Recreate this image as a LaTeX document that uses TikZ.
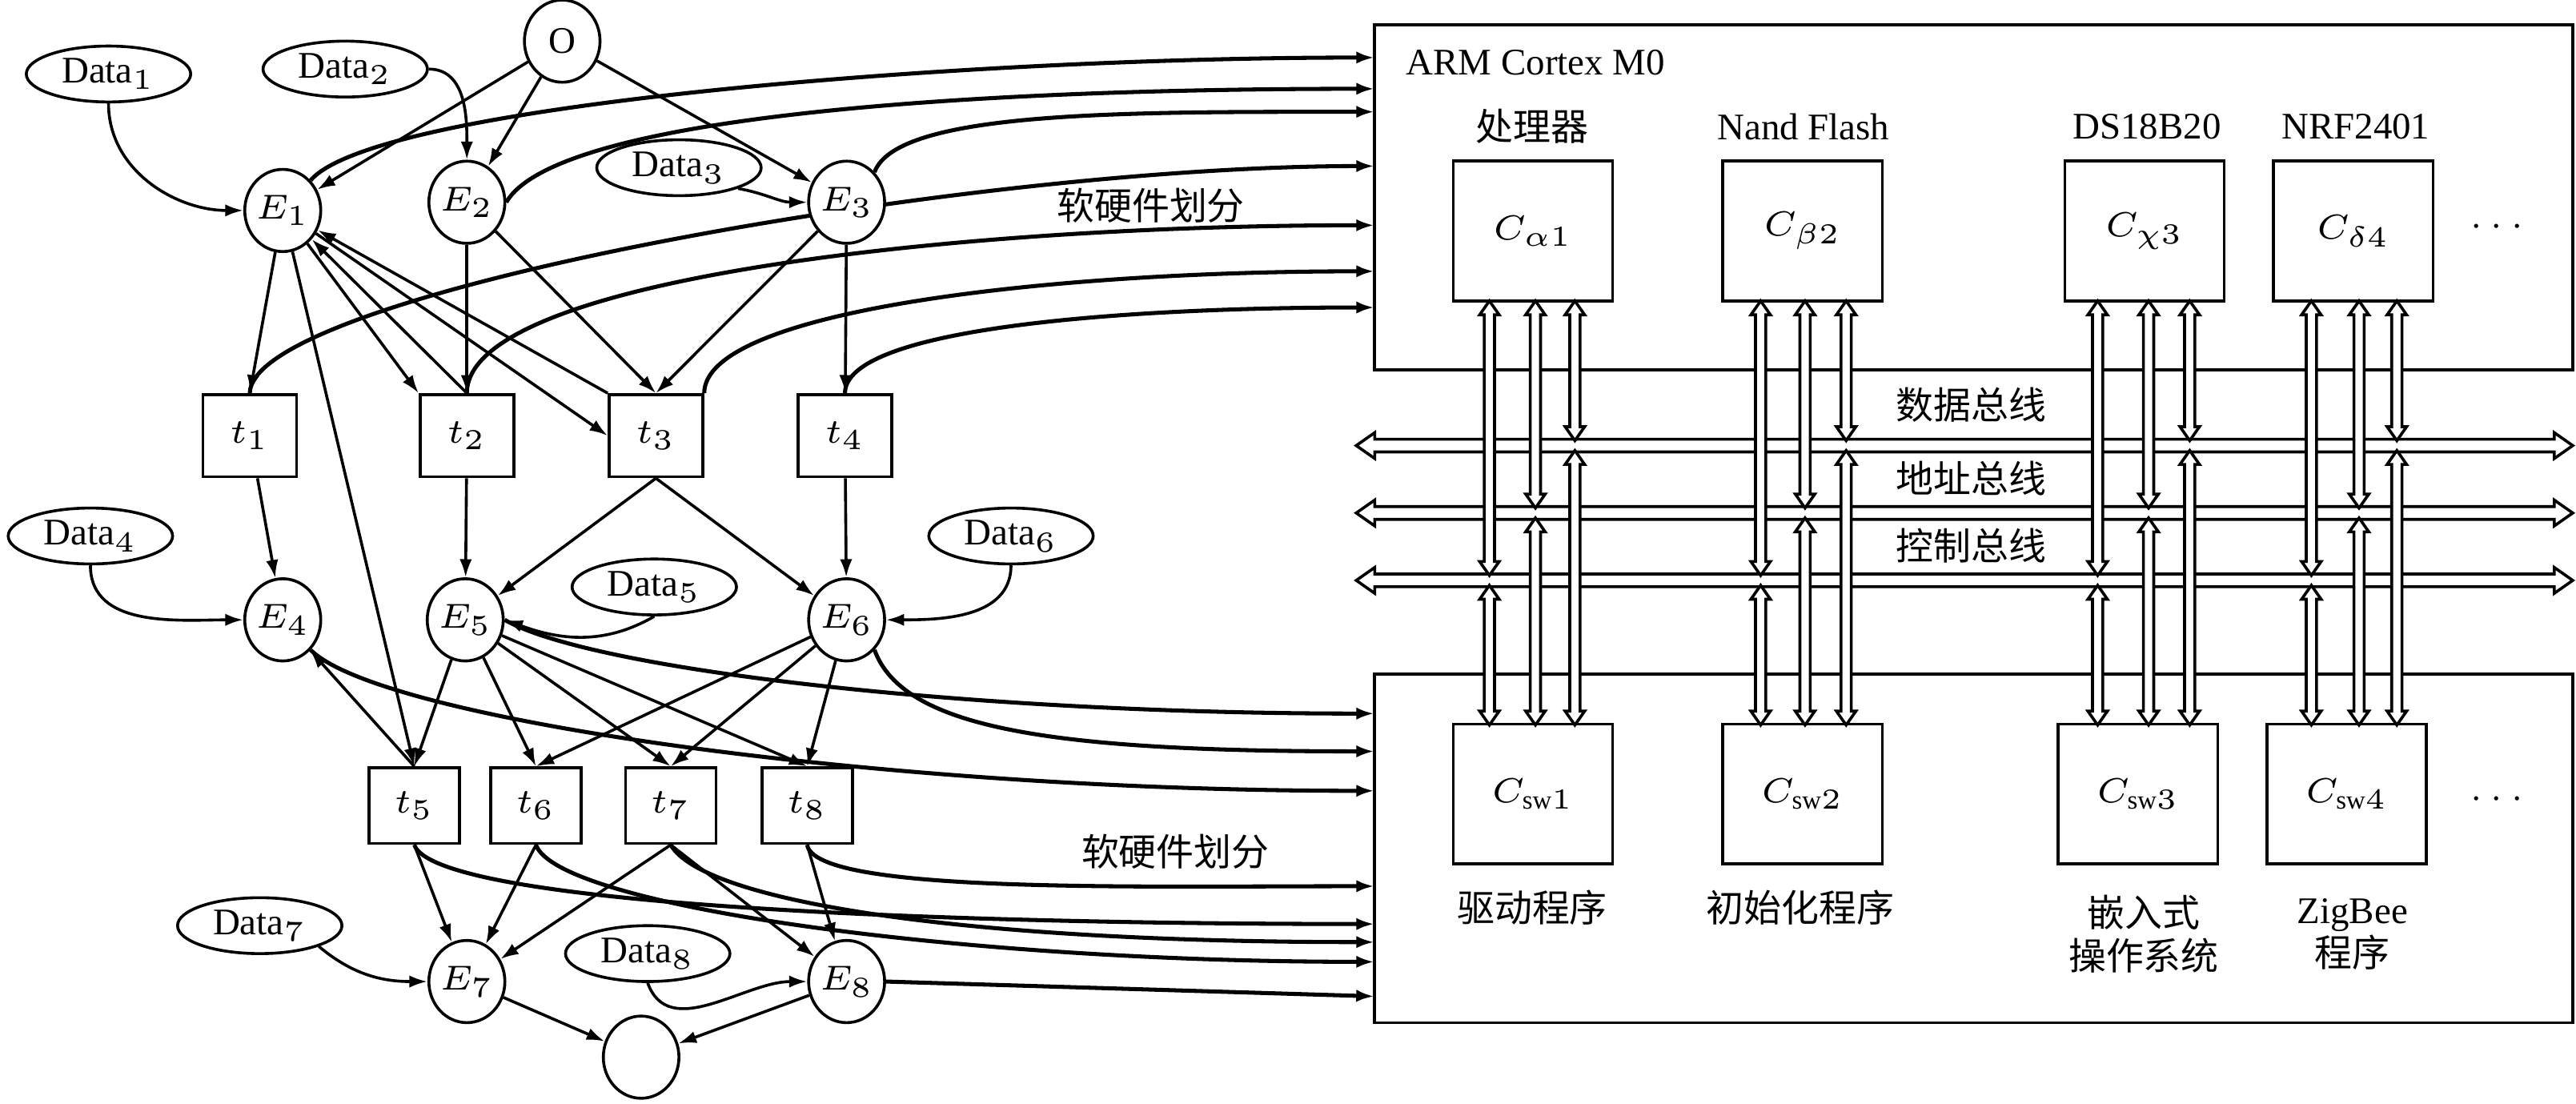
\documentclass[tikz,border=0pt]{standalone}
\usepackage{amsmath}
\usepackage{fontspec}
\setmainfont{Liberation Serif}
\newfontfamily\cjk{Noto Sans CJK SC}
\usetikzlibrary{arrows.meta,shapes,shapes.arrows}
\pgfdeclarelayer{bg}
\pgfsetlayers{bg,main}

\tikzset{
    every node/.style={font=\fontsize{6.5}{7.5}\selectfont},
    ev/.style={draw, ellipse, fill=white, line width=0.5pt, inner sep=0pt, minimum width=4.6mm, minimum height=5mm},
    dat/.style={draw, ellipse, fill=white, line width=0.5pt, inner sep=0pt, minimum width=10mm, minimum height=3.4mm},
    tr/.style={draw, rectangle, fill=white, line width=0.5pt, minimum width=5.7mm, minimum height=5mm},
    trs/.style={tr, minimum width=5.5mm, minimum height=4.6mm},
    cmp/.style={draw, rectangle, fill=white, line width=0.5pt, minimum width=9.7mm, minimum height=8.5mm},
    arr/.style={-{Latex[length=1.1mm,width=0.75mm]}, line width=0.5pt},
    flow/.style={arr, line width=0.7pt},
    link/.style={double arrow, draw, fill=white, line width=0.5pt, inner sep=0pt,
        text width=0pt, text depth=0pt, minimum width=0pt, double arrow tip angle=70},
    vlink/.style={link, rotate=90, text height=0.45mm, double arrow head extend=0.28mm},
    hbus/.style={link, text height=0.6mm, double arrow head extend=0.4mm}
}

\begin{document}
\begin{tikzpicture}[x=0.1mm, y=0.1mm]
\useasboundingbox (0,0) rectangle (1567,-671);

% processes
\node[ev] (O) at (342,-25) {O};
\node[ev] (E1) at (172,-128) {$E_1$};
\node[ev] (E2) at (284,-123) {$E_2$};
\node[ev] (E3) at (515,-123) {$E_3$};
\node[ev] (E4) at (172,-377) {$E_4$};
\node[ev] (E5) at (283,-377) {$E_5$};
\node[ev] (E6) at (515,-377) {$E_6$};
\node[ev] (E7) at (284,-597) {$E_7$};
\node[ev] (E8) at (515,-597) {$E_8$};
\node[ev] (end) at (390,-643) {};

\node[dat] (D1) at (66,-45) {Data$_1$};
\node[dat] (D2) at (210,-42) {Data$_2$};
\node[dat] (D3) at (413,-102) {Data$_3$};
\node[dat] (D4) at (55,-326) {Data$_4$};
\node[dat] (D5) at (398,-357) {Data$_5$};
\node[dat] (D6) at (615,-326) {Data$_6$};
\node[dat] (D7) at (158,-563) {Data$_7$};
\node[dat] (D8) at (394,-580) {Data$_8$};

\node[tr] (t1) at (152,-265) {$t_1$};
\node[tr] (t2) at (284,-265) {$t_2$};
\node[tr] (t3) at (399,-265) {$t_3$};
\node[tr] (t4) at (514,-265) {$t_4$};
\node[trs] (t5) at (252,-490) {$t_5$};
\node[trs] (t6) at (326,-490) {$t_6$};
\node[trs] (t7) at (408,-490) {$t_7$};
\node[trs] (t8) at (491,-490) {$t_8$};

\node[font=\cjk\fontsize{6.5}{7.5}\selectfont] (sp1) at (700,-125) {软硬件划分};
\node[font=\cjk\fontsize{6.5}{7.5}\selectfont] (sp2) at (715,-518) {软硬件划分};

% hardware / software
\node[draw, line width=0.5pt, minimum width=72.9mm, minimum height=21mm] (cpu) at (1200.5,-120) {};
\node[draw, line width=0.5pt, minimum width=72.9mm, minimum height=21.2mm] (mem) at (1200.5,-516) {};
\node[anchor=west] (arm) at (843,-38) {ARM Cortex M0};

\node[cmp] (Ca) at (932.5,-140.5) {$C_{\alpha 1}$};
\node[cmp] (Cb) at (1096.5,-140.5) {$C_{\beta 2}$};
\node[cmp] (Cc) at (1304.5,-140.5) {$C_{\chi 3}$};
\node[cmp] (Cd) at (1431.5,-140.5) {$C_{\delta 4}$};
\node (dots1) at (1521,-138) {$\cdots$};
\node[cmp] (S1) at (932.5,-483) {$C_{\mathrm{sw}1}$};
\node[cmp] (S2) at (1096.5,-483) {$C_{\mathrm{sw}2}$};
\node[cmp] (S3) at (1300.5,-483) {$C_{\mathrm{sw}3}$};
\node[cmp] (S4) at (1427.5,-483) {$C_{\mathrm{sw}4}$};
\node (dots2) at (1521,-486) {$\cdots$};

\node[font=\cjk\fontsize{6.5}{7.5}\selectfont] (la) at (932,-77) {处理器};
\node (lb) at (1097,-77) {Nand Flash};
\node (lc) at (1306,-77) {DS18B20};
\node (ld) at (1433,-77) {NRF2401};
\node[font=\cjk\fontsize{6.5}{7.5}\selectfont] (sa) at (932,-552) {驱动程序};
\node[font=\cjk\fontsize{6.5}{7.5}\selectfont] (sb) at (1095,-552) {初始化程序};
\node[font=\cjk\fontsize{6.5}{7.5}\selectfont, align=center] (sc) at (1304,-568) {嵌入式\\操作系统};
\node[align=center] (sd) at (1431,-568) {ZigBee\\{\cjk 程序}};

% buses
\node[hbus, minimum height=74mm] (dbus) at (1195,-271) {};
\node[hbus, minimum height=74mm] (abus) at (1195,-312) {};
\node[hbus, minimum height=74mm] (cbus) at (1195,-353) {};
\node[font=\cjk\fontsize{6.5}{7.5}\selectfont] (ldb) at (1199,-246) {数据总线};
\node[font=\cjk\fontsize{6.5}{7.5}\selectfont] (lab) at (1199,-291) {地址总线};
\node[font=\cjk\fontsize{6.5}{7.5}\selectfont] (lcb) at (1199,-332) {控制总线};

\foreach \c/\xa/\xb/\xc in {1/906/934/958, 2/1071/1098/1123, 3/1276/1307/1332, 4/1406/1435/1458} {
    \node[vlink, minimum height=16.7mm] (u\c a) at (\xa,-266.5) {};
    \node[vlink, minimum height=8.5mm]  (d\c a) at (\xa,-398.5) {};
    \node[vlink, minimum height=12.6mm] (u\c b) at (\xb,-246) {};
    \node[vlink, minimum height=12.6mm] (d\c b) at (\xb,-378) {};
    \node[vlink, minimum height=8.5mm]  (u\c c) at (\xc,-225.5) {};
    \node[vlink, minimum height=16.7mm] (d\c c) at (\xc,-357.5) {};
}

\foreach \y [count=\i] in {35,54,68,101,137,165,187}
    \coordinate (a\i) at (836,-\y);
\foreach \y [count=\i] in {434,457,481,539,562,573,585,606}
    \coordinate (b\i) at (836,-\y);

\begin{pgfonlayer}{bg}
% graph
\draw[arr] (O) -- (E1);
\draw[arr] (O) -- (E2);
\draw[arr] (O) -- (E3);
\draw[arr] (D1.south) to[out=-90, in=180] (E1.west);
\draw[arr] (D2.east) to[out=0, in=90] (E2.north);
\draw[arr] (D3.south east) to[out=-10, in=180] (E3.west);
\draw[arr] (D4.south) to[out=-90, in=180] (E4.west);
\draw[arr] (D5.south) to[out=-150, in=-20] (E5.east);
\draw[arr] (D6.south) to[out=-90, in=0] (E6.east);
\draw[arr] (D7.south east) to[out=-40, in=180] (E7.west);
\draw[arr] (D8.south) to[out=-70, in=180] (E8.west);

\draw[arr] (E1) -- (t1.north);
\draw[arr] (E1) -- (t2.north west);
\draw[arr] (t2.north) -- (E1);
\draw[arr] (E1) -- (t3.west);
\draw[arr] (t3.north west) -- (E1);
\draw[arr] (E1) -- (t5.north);
\draw[arr] (E2) -- (t2);
\draw[arr] (E2) -- (t3.north);
\draw[arr] (E3) -- (t3.north);
\draw[arr] (E3) -- (t4);
\draw[arr] (t1) -- (E4);
\draw[arr] (t2) -- (E5);
\draw[arr] (t3.south) -- (E5);
\draw[arr] (t3.south) -- (E6);
\draw[arr] (t4) -- (E6);
\draw[arr] (t5.north) -- (E4);
\draw[arr] (E5) -- (t5.north);
\draw[arr] (E5) -- (t6.north);
\draw[arr] (E5) -- (t7.north);
\draw[arr] (E5) -- (t8.north);
\draw[arr] (E6) -- (t6.north);
\draw[arr] (E6) -- (t7.north);
\draw[arr] (E6) -- (t8.north);
\draw[arr] (t5.south) -- (E7);
\draw[arr] (t6.south) -- (E7);
\draw[arr] (t7.south) -- (E7);
\draw[arr] (t7.south) -- (E8);
\draw[arr] (t8.south) -- (E8);
\draw[arr] (E7) -- (end);
\draw[arr] (E8) -- (end);

% to the platform
\draw[flow] (E1.north east) .. controls +(50:60) and +(180:250) .. (a1);
\draw[flow] (E2.east) .. controls +(60:60) and +(180:250) .. (a2);
\draw[flow] (E3.north east) .. controls +(70:40) and +(180:150) .. (a3);
\draw[flow] (t1.north) .. controls +(90:60) and +(180:250) .. (a4);
\draw[flow] (t2.north) .. controls +(90:70) and +(180:250) .. (a5);
\draw[flow] (t3.north east) .. controls +(90:50) and +(180:200) .. (a6);
\draw[flow] (t4.north) .. controls +(90:40) and +(180:150) .. (a7);
\draw[flow] (E5.east) .. controls +(-30:60) and +(180:250) .. (b1);
\draw[flow] (E6.south east) .. controls +(-70:50) and +(180:200) .. (b2);
\draw[flow] (E4.south east) .. controls +(-45:60) and +(180:300) .. (b3);
\draw[flow] (t8.south) .. controls +(-80:30) and +(180:150) .. (b4);
\draw[flow] (t5.south) .. controls +(-70:40) and +(180:250) .. (b5);
\draw[flow] (t7.south) .. controls +(-60:40) and +(180:250) .. (b6);
\draw[flow] (t6.south) .. controls +(-70:40) and +(180:250) .. (b7);
\draw[flow] (E8.east) -- (b8);
\end{pgfonlayer}
\end{tikzpicture}
\end{document}
